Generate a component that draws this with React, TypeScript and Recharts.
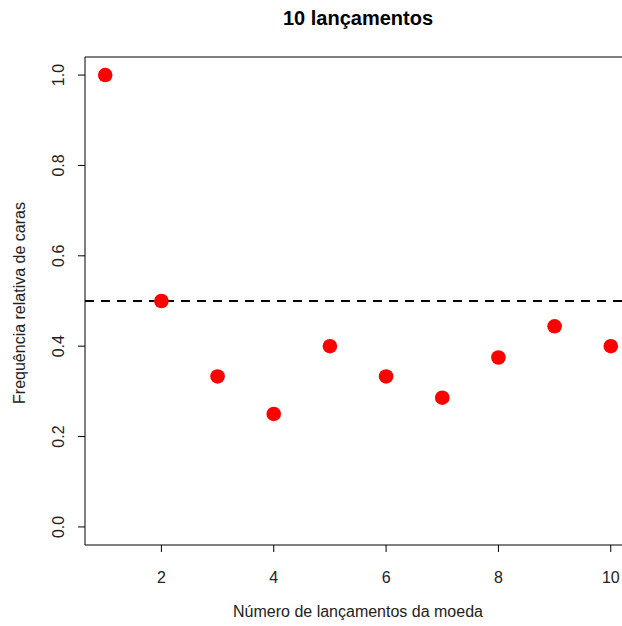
import { ScatterChart, Scatter, XAxis, YAxis, ReferenceLine, ReferenceArea } from "recharts";

// Cumulative relative frequency of heads after each toss
const tosses = [1, 2, 3, 4, 5, 6, 7, 8, 9, 10];
const freqHeads = [1.0, 0.5, 0.333, 0.25, 0.4, 0.333, 0.286, 0.375, 0.444, 0.4];
const xTicks = [2, 4, 6, 8, 10];
const yTicks = [0, 0.2, 0.4, 0.6, 0.8, 1.0];

const data = tosses.map((n, i) => ({ n, f: freqHeads[i] }));

const FONT = "'Liberation Sans', Arial, sans-serif";

// R-style rotated y tick labels
function YTick(props: any) {
  const { y, payload } = props;
  const x = 59;
  return (
    <text
      x={x}
      y={y}
      transform={`rotate(-90, ${x}, ${y})`}
      textAnchor="middle"
      dominantBaseline="central"
      fontSize={16}
      fontFamily={FONT}
      fill="#222"
    >
      {payload.value.toFixed(1)}
    </text>
  );
}

function XTick(props: any) {
  const { x, payload } = props;
  return (
    <text x={x} y={577} textAnchor="middle" dominantBaseline="central" fontSize={16} fontFamily={FONT} fill="#222">
      {payload.value}
    </text>
  );
}

export default function App() {
  return (
    <div style={{ position: "absolute", left: 0, top: 0, width: 622, height: 626, overflow: "hidden", background: "#fff", fontFamily: FONT }}>
      <ScatterChart width={640} height={626} margin={{ top: 57, right: 9, bottom: 41, left: 25 }}>
        <XAxis
          type="number"
          dataKey="n"
          domain={[0.64, 10.36]}
          ticks={xTicks}
          axisLine={false}
          tickSize={7}
          tickLine={{ stroke: "#000" }}
          height={40}
          tick={<XTick />}
          allowDataOverflow
        />
        <YAxis
          type="number"
          dataKey="f"
          domain={[-0.04, 1.04]}
          ticks={yTicks}
          axisLine={false}
          tickSize={7}
          tickLine={{ stroke: "#000" }}
          width={60}
          tick={<YTick />}
          allowDataOverflow
        />
        <ReferenceArea x1={0.64} x2={10.36} y1={-0.04} y2={1.04} fill="none" stroke="#000" strokeWidth={1} />
        <ReferenceLine y={0.5} stroke="#000" strokeWidth={2} strokeDasharray="9 7" />
        <Scatter
          data={data}
          isAnimationActive={false}
          shape={(p: any) => <circle cx={p.cx} cy={p.cy} r={7.3} fill="#ff0000" />}
        />
      </ScatterChart>
      <div style={{ position: "absolute", left: 0, width: 716, top: 7, textAlign: "center", fontWeight: "bold", fontSize: 20 }}>
        10 lançamentos
      </div>
      <div style={{ position: "absolute", left: 0, width: 716, top: 603, textAlign: "center", fontSize: 16, color: "#222" }}>
        Número de lançamentos da moeda
      </div>
      <div
        style={{
          position: "absolute",
          left: 20,
          top: 303,
          transform: "translate(-50%, -50%) rotate(-90deg)",
          whiteSpace: "nowrap",
          fontSize: 16,
          color: "#222",
        }}
      >
        Frequência relativa de caras
      </div>
    </div>
  );
}
